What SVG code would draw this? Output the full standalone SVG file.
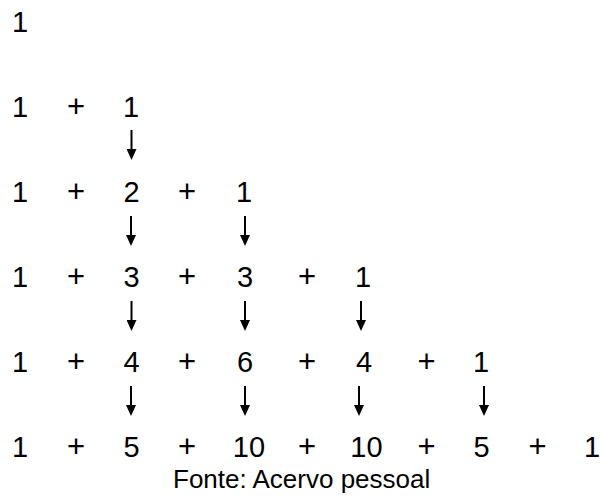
<svg xmlns="http://www.w3.org/2000/svg" width="600" height="501" viewBox="0 0 600 501">
  <style>
    text { font-family: "Liberation Sans", Arial, sans-serif; fill: #000; }
    .n, .op { font-size: 29px; text-anchor: middle; }
    .op { font-size: 31px; }
    .src { font-size: 26px; }
    .arrow { stroke: #000; stroke-width: 2; fill: none; marker-end: url(#head); }
  </style>
  <defs>
    <!-- solid triangular arrowhead, drawn along +x and rotated by the path direction -->
    <marker id="head" markerUnits="userSpaceOnUse" markerWidth="11" markerHeight="10" refX="0" refY="5" orient="auto" viewBox="0 0 11 10">
      <path d="M0,0 L11,5 L0,10 Z" fill="#000"/>
    </marker>
  </defs>
  <rect width="600" height="501" fill="#fff"/>

  <!-- row 0 -->
  <g id="row0">
    <g id="r0c0"><text class="n" x="20" y="32">1</text></g>
  </g>

  <!-- row 1 -->
  <g id="row1">
    <g id="r1c0"><text class="n" x="20" y="117">1</text></g>
    <text class="op" x="76" y="117">+</text>
    <g id="r1c1"><text class="n" x="131" y="117">1</text></g>
  </g>

  <!-- row 2 -->
  <g id="row2">
    <g id="r2c0"><text class="n" x="20" y="202">1</text></g>
    <text class="op" x="76" y="202">+</text>
    <g id="r2c1"><text class="n" x="131.5" y="202">2</text></g>
    <text class="op" x="187" y="202">+</text>
    <g id="r2c2"><text class="n" x="244" y="202">1</text></g>
  </g>

  <!-- row 3 -->
  <g id="row3">
    <g id="r3c0"><text class="n" x="20" y="287">1</text></g>
    <text class="op" x="76" y="287">+</text>
    <g id="r3c1"><text class="n" x="131.5" y="287">3</text></g>
    <text class="op" x="187" y="287">+</text>
    <g id="r3c2"><text class="n" x="245" y="287">3</text></g>
    <text class="op" x="307" y="287">+</text>
    <g id="r3c3"><text class="n" x="363" y="287">1</text></g>
  </g>

  <!-- row 4 -->
  <g id="row4">
    <g id="r4c0"><text class="n" x="20" y="372">1</text></g>
    <text class="op" x="76" y="372">+</text>
    <g id="r4c1"><text class="n" x="131.5" y="372">4</text></g>
    <text class="op" x="187" y="372">+</text>
    <g id="r4c2"><text class="n" x="245" y="372">6</text></g>
    <text class="op" x="307" y="372">+</text>
    <g id="r4c3"><text class="n" x="364" y="372">4</text></g>
    <text class="op" x="426.5" y="372">+</text>
    <g id="r4c4"><text class="n" x="481" y="372">1</text></g>
  </g>

  <!-- row 5 -->
  <g id="row5">
    <g id="r5c0"><text class="n" x="20" y="457">1</text></g>
    <text class="op" x="76" y="457">+</text>
    <g id="r5c1"><text class="n" x="131.5" y="457">5</text></g>
    <text class="op" x="187" y="457">+</text>
    <g id="r5c2"><text class="n" x="249" y="457">10</text></g>
    <text class="op" x="307" y="457">+</text>
    <g id="r5c3"><text class="n" x="366.5" y="457">10</text></g>
    <text class="op" x="426.5" y="457">+</text>
    <g id="r5c4"><text class="n" x="481.5" y="457">5</text></g>
    <text class="op" x="537.5" y="457">+</text>
    <g id="r5c5"><text class="n" x="592" y="457">1</text></g>
  </g>

  <!-- downward arrows between rows: 19px shaft + 11px head -->
  <g id="connectors">
    <path class="arrow" d="M131.5,130 V149"/>

    <path class="arrow" d="M131,216 V235"/>
    <path class="arrow" d="M245,216 V235"/>

    <path class="arrow" d="M131.5,301 V320"/>
    <path class="arrow" d="M245,301 V320"/>
    <path class="arrow" d="M361,301 V320"/>

    <path class="arrow" d="M131,386 V405"/>
    <path class="arrow" d="M245,386 V405"/>
    <path class="arrow" d="M359,386 V405"/>
    <path class="arrow" d="M484,386 V405"/>
  </g>

  <!-- caption -->
  <g id="caption">
    <text class="src" x="173" y="488">Fonte: Acervo pessoal</text>
  </g>
</svg>
